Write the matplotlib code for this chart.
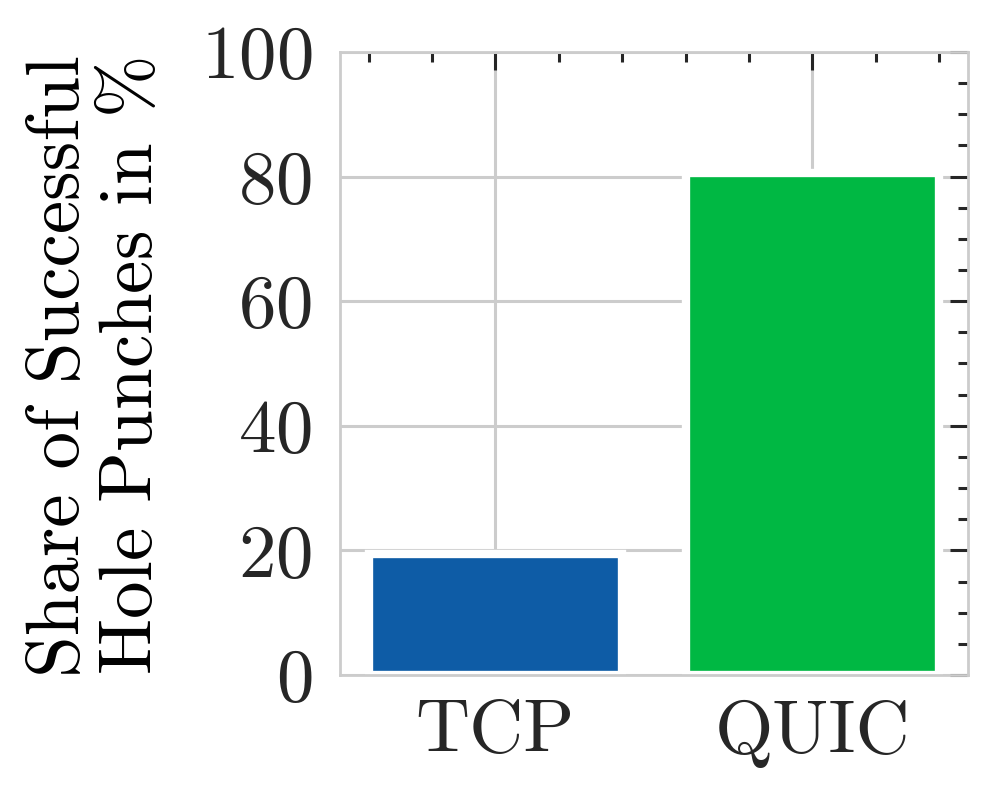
import matplotlib
matplotlib.use("Agg")
import matplotlib.pyplot as plt
from matplotlib.ticker import MultipleLocator

protocols = ["TCP", "QUIC"]
success_share = [19.4, 80.5]
bar_colors = ["#0e5ca6", "#00b843"]

plt.rcParams.update({
    "font.family": "serif",
    "font.serif": ["cmr10"],
    "mathtext.fontset": "cm",
    "axes.formatter.use_mathtext": True,
    "font.size": 54,
    "axes.edgecolor": "#cccccc",
    "axes.linewidth": 2,
    "grid.color": "#cccccc",
    "grid.linewidth": 2.2,
    "text.color": "#262626",
    "xtick.color": "#262626",
    "ytick.color": "#262626",
})

fig = plt.figure(figsize=(9.95, 7.96), dpi=100)
ax = fig.add_axes([0.3417, 0.152, 0.631, 0.7827])

x = range(len(protocols))
ax.bar(x, success_share, width=0.8, color=bar_colors,
       edgecolor="white", linewidth=6, zorder=2)

ax.set_xlim(-0.49, 1.49)
ax.set_ylim(0, 100)
ax.set_xticks(list(x))
ax.set_xticklabels(protocols)
ax.set_yticks([0, 20, 40, 60, 80, 100])
ax.xaxis.set_minor_locator(MultipleLocator(0.2))
ax.yaxis.set_minor_locator(MultipleLocator(5))
ax.grid(True, which="major", zorder=0)
ax.set_axisbelow(True)

ax.tick_params(axis="x", which="both", bottom=False, top=True,
               direction="in", pad=18, width=2.2)
ax.tick_params(axis="y", which="both", left=False, right=True,
               direction="in", pad=20, width=2.2)
ax.tick_params(which="major", length=13)
ax.tick_params(which="minor", length=7)
ax.tick_params(axis="x", which="major", labelbottom=True, labeltop=False)

ax.set_ylabel("Share of Successful\nHole Punches in $\\%$",
              linespacing=1.12)
ax.yaxis.set_label_coords(-0.275, 0.495)

fig.savefig("out.png", dpi=100)
